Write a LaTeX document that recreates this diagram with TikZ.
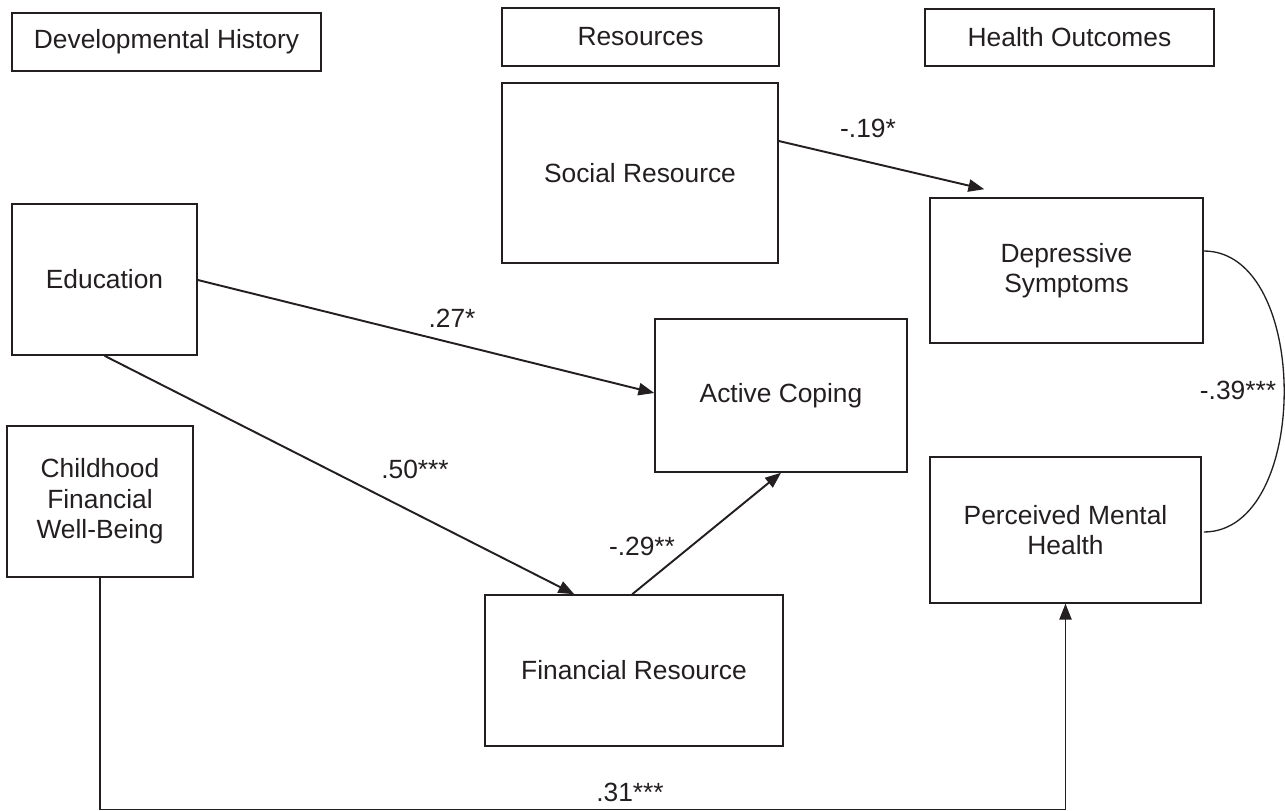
\documentclass[tikz,border=0pt]{standalone}
\usepackage{fontspec}
\setmainfont{Liberation Sans}
\usetikzlibrary{calc,arrows.meta}
\definecolor{ink}{HTML}{231F20}
\begin{document}
\begin{tikzpicture}[x=0.02cm,y=-0.02cm,
  box/.style={draw=ink, line width=0.9pt, rectangle, inner sep=0pt, align=center, text=ink,
    font=\fontsize{15}{17.3}\selectfont},
  arr/.style={draw=ink, line width=1.1pt, -{Triangle[length=9pt,width=7pt]}},
  thin/.style={draw=ink, line width=0.75pt},
  lab/.style={text=ink, font=\fontsize{15}{17.3}\selectfont, inner sep=0pt}]
\useasboundingbox[fill=white] (0,0) rectangle (1285,811);

\node[box, minimum width=6.18cm, minimum height=1.16cm] (dev) at (166.5,42) {Developmental History};
\node[box, minimum width=5.54cm, minimum height=1.16cm] (res) at (640.5,37) {Resources};
\node[box, minimum width=5.78cm, minimum height=1.14cm] (hlth) at (1069.5,37.5) {Health Outcomes};
\node[box, minimum width=5.52cm, minimum height=3.6cm] (social) at (640,173) {Social Resource};
\node[box, minimum width=3.7cm, minimum height=3.02cm] (edu) at (104.5,279.5) {Education};
\node[box, minimum width=5.46cm, minimum height=2.9cm] (dep) at (1066.5,270.5) {Depressive\\Symptoms};
\node[box, minimum width=5.04cm, minimum height=3.06cm] (active) at (781,395.5) {Active Coping};
\node[box, minimum width=3.72cm, minimum height=3.02cm] (child) at (100,501.5) {Childhood\\Financial\\Well-Being};
\node[box, minimum width=5.42cm, minimum height=2.92cm] (pmh) at (1065.5,530) {Perceived Mental\\Health};
\node[box, minimum width=5.96cm, minimum height=3.02cm] (fin) at (634,670.5) {Financial Resource};

% arrows
\draw[arr] ($(social.east)+(0,-32)$) -- ($(dep.north west)+(55,-8)$);
\draw[arr] ($(edu.east)+(0,0.5)$) -- ($(active.west)+(0,-2.5)$);
\draw[arr] (edu.south) -- ($(fin.north west)+(90,0)$);
\draw[arr] ($(fin.north west)+(148,0)$) -- (active.south);
\draw[thin, -{Triangle[length=9pt,width=7pt]}] (child.south) -- ++(0,232) -| (pmh.south);
\draw[thin] ($(dep.east)+(0,-19.5)$) .. controls (1311,251) and (1311,532) .. ($(pmh.east)+(2,2)$);

% labels
\node[lab] (l19) at (868,128) {-.19*};
\node[lab] (l27) at (452,318) {.27*};
\node[lab] (l50) at (415,469) {.50***};
\node[lab] (l29) at (642,546) {-.29**};
\node[lab] (l39) at (1238,390) {-.39***};
\node[lab] (l31) at (630,792) {.31***};
\end{tikzpicture}
\end{document}
